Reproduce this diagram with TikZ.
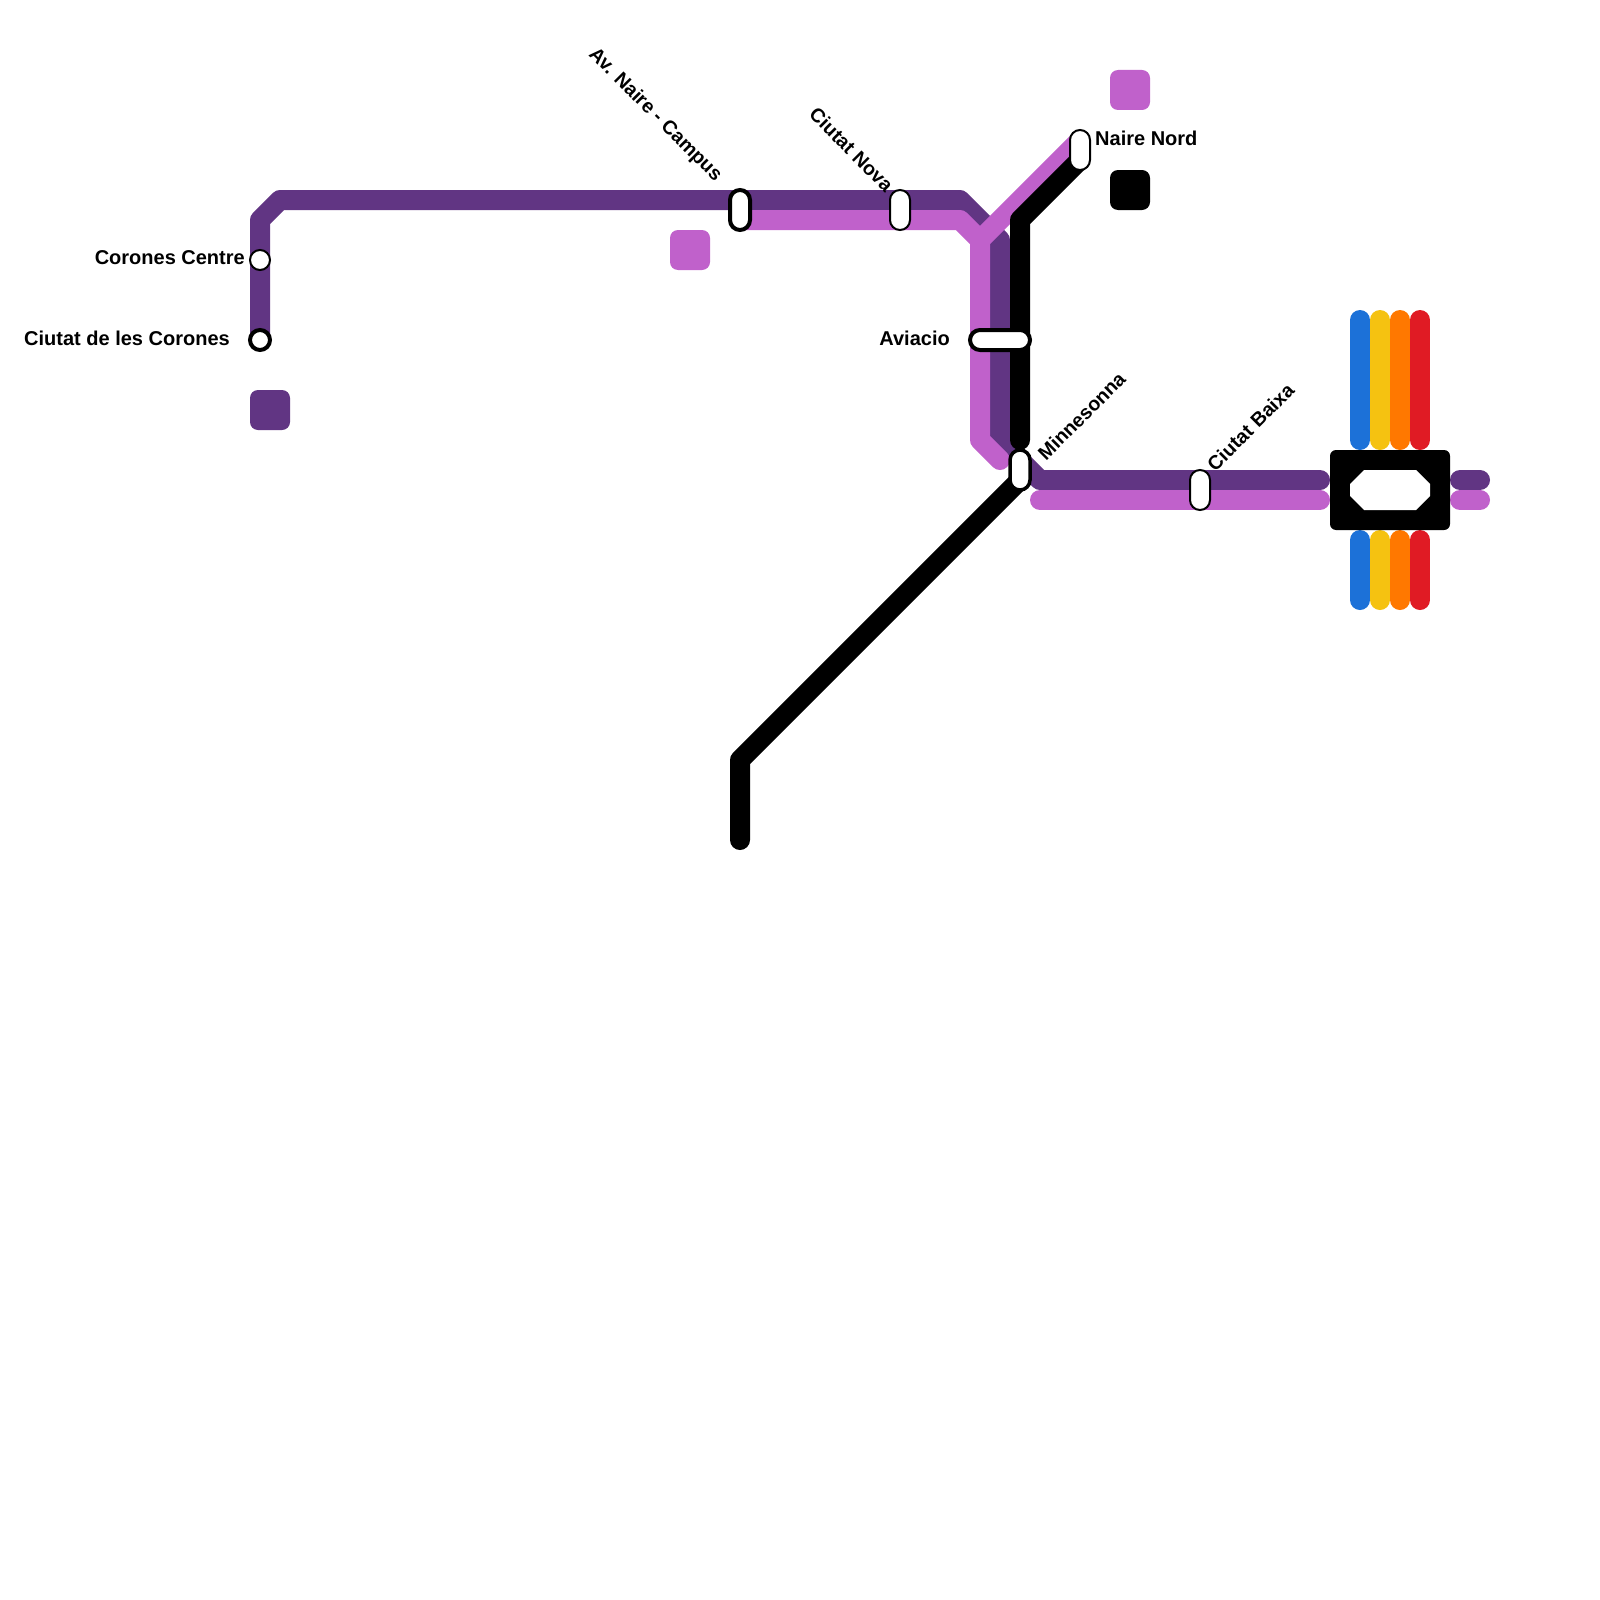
\documentclass[tikz,border=0pt]{standalone}
\usepackage{fontspec}
\setmainfont{Liberation Sans}
\definecolor{dkpurple}{HTML}{613583}
\definecolor{ltpurple}{HTML}{C061CB}
\definecolor{lnblue}{HTML}{1C71D8}
\definecolor{lnyellow}{HTML}{F5C211}
\definecolor{lnorange}{HTML}{FF7800}
\definecolor{lnred}{HTML}{E01B24}
\tikzset{
  route/.style={line width=20pt,line cap=round,line join=round},
  pillv/.style={draw=black,fill=white,rectangle,rounded corners=10pt,minimum width=20pt,minimum height=40pt,inner sep=0pt},
  pillh/.style={draw=black,fill=white,rectangle,rounded corners=10pt,minimum width=60pt,minimum height=20pt,inner sep=0pt},
  dot/.style={draw=black,fill=white,circle,minimum size=20pt,inner sep=0pt},
  thinedge/.style={line width=2pt},
  thickedge/.style={line width=4pt},
  swatch/.style={rectangle,rounded corners=8pt,minimum size=40pt,inner sep=0pt},
  lbl/.style={font=\bfseries\fontsize{20pt}{24pt}\selectfont,text=black,inner sep=0pt},
  lblr/.style={font=\bfseries\fontsize{19.6pt}{24pt}\selectfont,text=black,inner sep=0pt}
}
\begin{document}
\begin{tikzpicture}[x=1pt,y=-1pt]
\useasboundingbox (0,0) rectangle (1600,1600);
\fill[white] (0,0) rectangle (1600,1600);
% waypoints
\coordinate (dA) at (260,340); \coordinate (dB) at (260,220); \coordinate (dC) at (280,200);
\coordinate (dD) at (960,200); \coordinate (dE) at (1000,240); \coordinate (dF) at (1000,440);
\coordinate (dG) at (1040,480); \coordinate (dH) at (1320,480);
\coordinate (dI) at (1460,480); \coordinate (dJ) at (1480,480);
\coordinate (lA) at (740,220); \coordinate (lB) at (960,220); \coordinate (lC) at (980,240);
\coordinate (lD) at (980,440); \coordinate (lE) at (1000,460); \coordinate (lF) at (1080,140);
\coordinate (lG) at (1040,500); \coordinate (lH) at (1320,500);
\coordinate (lI) at (1460,500); \coordinate (lJ) at (1480,500);
\coordinate (kA) at (1080,160); \coordinate (kB) at (1020,220); \coordinate (kC) at (1020,440);
\coordinate (kD) at (1020,480); \coordinate (kE) at (740,760); \coordinate (kF) at (740,840);
% swatches
\node[swatch,fill=ltpurple] (swA) at (690,250) {};
\node[swatch,fill=ltpurple] (swB) at (1130,90) {};
\node[swatch,fill=black] (swC) at (1130,190) {};
\node[swatch,fill=dkpurple] (swD) at (270,410) {};
% routes
\draw[route,dkpurple] (dA) -- (dB) -- (dC) -- (dD) -- (dE) -- (dF) -- (dG) -- (dH);
\draw[route,dkpurple] (dI) -- (dJ);
\draw[route,ltpurple] (lA) -- (lB) -- (lC) -- (lD) -- (lE);
\draw[route,ltpurple] (lC) -- (lF);
\draw[route,ltpurple] (lG) -- (lH);
\draw[route,ltpurple] (lI) -- (lJ);
\draw[route,black] (kA) -- (kB) -- (kC);
\draw[route,black] (kD) -- (kE) -- (kF);
% coloured stubs
\foreach \xx/\cc/\nm in {1360/lnblue/b,1380/lnyellow/y,1400/lnorange/o,1420/lnred/r}{
  \coordinate (\nm T) at (\xx,320); \coordinate (\nm U) at (\xx,440);
  \coordinate (\nm V) at (\xx,540); \coordinate (\nm W) at (\xx,600);
  \draw[route,\cc] (\nm T) -- (\nm U);
  \draw[route,\cc] (\nm V) -- (\nm W);
}
% terminal block
\fill[black,rounded corners=6pt] (1330,450) rectangle (1450,530);
\fill[white] (1350,484) -- (1364,470) -- (1416,470) -- (1430,484) -- (1430,496) -- (1416,510) -- (1364,510) -- (1350,496) -- cycle;
% stations
\node[dot,thinedge] (stCC) at (260,260) {};
\node[dot,thickedge] (stCD) at (260,340) {};
\node[pillv,thickedge] (stAN) at (740,210) {};
\node[pillv,thinedge] (stCN) at (900,210) {};
\node[pillh,thickedge] (stAV) at (1000,340) {};
\node[pillv,thinedge] (stNN) at (1080,150) {};
\node[pillv,line width=3.5pt] (stMI) at (1020,470) {};
\node[pillv,thinedge] (stCB) at (1200,490) {};
% labels
\node[lbl,anchor=east] (tCC) at (245,258) {Corones Centre};
\node[lbl,anchor=east] (tCD) at (230,338) {Ciutat de les Corones};
\node[lbl,anchor=east] (tAV) at (950,338) {Aviacio};
\node[lbl,anchor=west] (tNN) at (1095,138) {Naire Nord};
\node[lblr,rotate=-45] (tAN) at (655,115) {Av. Naire - Campus};
\node[lblr,rotate=-45] (tCN) at (851.5,149.5) {Ciutat Nova};
\node[lblr,rotate=45] (tMI) at (1081.5,416) {Minnesonna};
\node[lblr,rotate=45] (tCB) at (1250.5,427) {Ciutat Baixa};
\end{tikzpicture}
\end{document}
